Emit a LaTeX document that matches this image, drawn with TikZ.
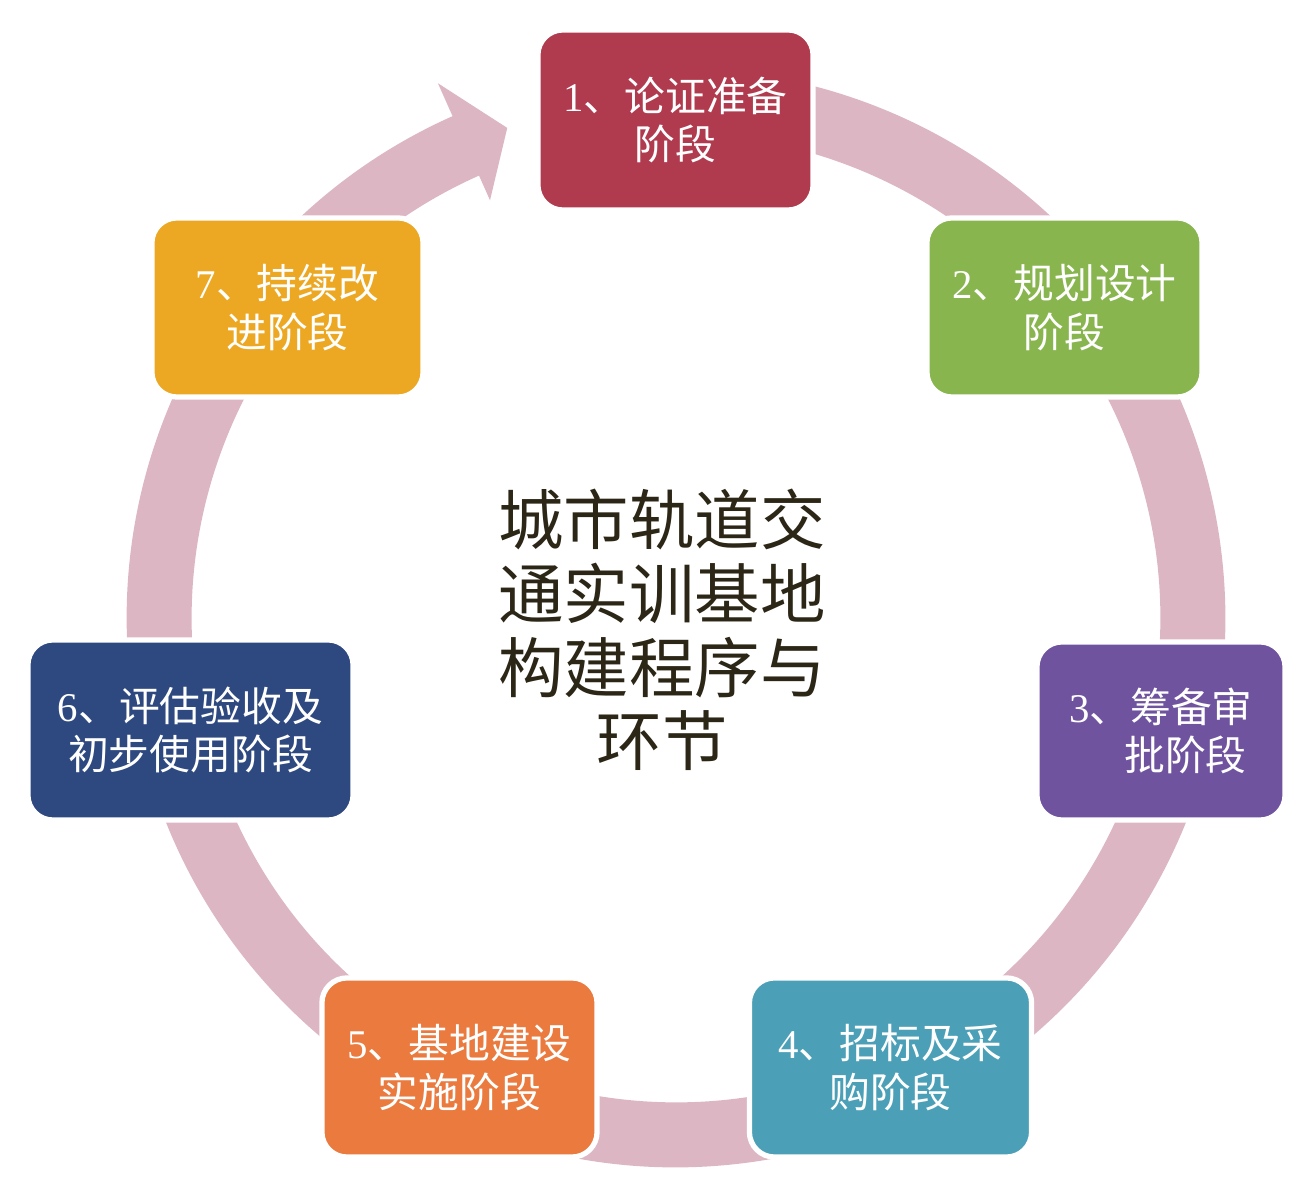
\documentclass[tikz,border=0pt]{standalone}
\usepackage{fontspec}
\setmainfont{Liberation Serif}
\newfontfamily\cjk{Noto Sans CJK SC}
\definecolor{ringc}{HTML}{DDB6C4}
\definecolor{c1}{HTML}{B03B4F}
\definecolor{c2}{HTML}{88B54E}
\definecolor{c3}{HTML}{6F539F}
\definecolor{c4}{HTML}{4BA0B8}
\definecolor{c5}{HTML}{EA7A3E}
\definecolor{c6}{HTML}{2E4880}
\definecolor{c7}{HTML}{ECA823}
\definecolor{titlec}{HTML}{2B2616}
\begin{document}
\begin{tikzpicture}[x=0.01cm,y=0.01cm,
  stagebox/.style={draw=white, line width=1.5pt, rounded corners=0.25cm,
    text=white, align=center, inner sep=0pt,
    font=\fontsize{11.6pt}{13.8pt}\selectfont\cjk},
  ringfill/.style={fill=ringc},
  titletext/.style={text=titlec, align=center,
    font=\fontsize{18.6pt}{21pt}\selectfont\cjk}]
\useasboundingbox (0,0) rectangle (1299,-1177);
\fill[white] (0,0) rectangle (1299,-1177);
% ring with arrowhead
\begin{scope}[shift={(676,-618)}]
\fill[ringfill] (100:5.49cm) arc[start angle=100, end angle=-246, radius=5.49cm]
  -- (114:5.85cm) -- (109:5.18cm) -- (114:4.57cm) -- (-246:4.84cm)
  arc[start angle=-246, end angle=100, radius=4.84cm] -- cycle;
\end{scope}
% stages
\node[stagebox, fill=c1, minimum width=2.75cm, minimum height=1.80cm] (s1) at (675.5,-120)
  {{\rmfamily 1}、论证准备\\阶段};
\node[stagebox, fill=c2, minimum width=2.75cm, minimum height=1.79cm] (s2) at (1064.5,-307.5)
  {{\rmfamily 2}、规划设计\\阶段};
\node[stagebox, fill=c3, minimum width=2.48cm, minimum height=1.78cm] (s3) at (1161,-731)
  {{\rmfamily 3}、筹备审\\\hspace*{1.2em}批阶段};
\node[stagebox, fill=c4, minimum width=2.82cm, minimum height=1.79cm] (s4) at (890.5,-1067.5)
  {{\rmfamily 4}、招标及采\\购阶段};
\node[stagebox, fill=c5, minimum width=2.75cm, minimum height=1.79cm] (s5) at (459.5,-1067.5)
  {{\rmfamily 5}、基地建设\\实施阶段};
\node[stagebox, fill=c6, minimum width=3.25cm, minimum height=1.80cm] (s6) at (190.5,-730)
  {{\rmfamily 6}、评估验收及\\初步使用阶段};
\node[stagebox, fill=c7, minimum width=2.71cm, minimum height=1.79cm] (s7) at (287.5,-307.5)
  {{\rmfamily 7}、持续改\\进阶段};
% title
\node[titletext] (title) at (662,-630) {城市轨道交\\通实训基地\\构建程序与\\环节};
\end{tikzpicture}
\end{document}
